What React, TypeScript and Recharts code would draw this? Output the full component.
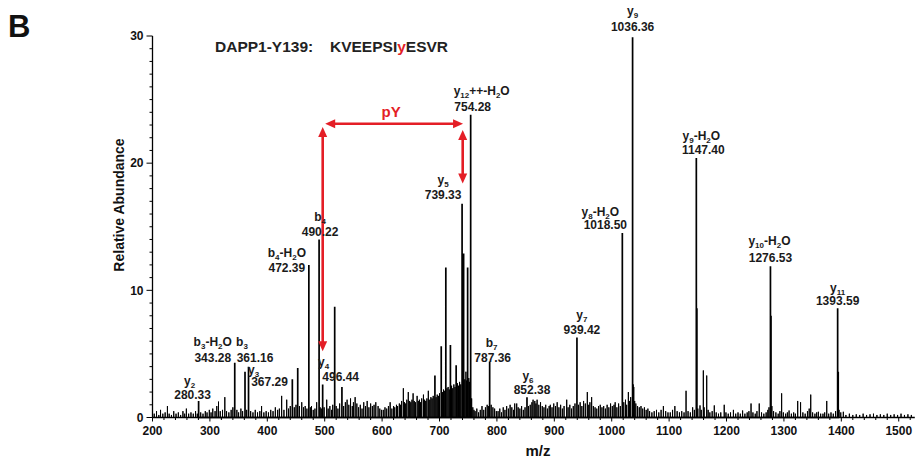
import React from 'react';
import { ComposedChart, Line, Scatter, XAxis, YAxis, ReferenceLine } from 'recharts';

const FONT = '"Liberation Sans", Arial, Helvetica, sans-serif';
const RED = '#e41e26';

// ---- data ----
const labeledMz = [280.33, 343.28, 361.16, 367.29, 472.39, 490.22, 496.44, 739.33, 754.28, 787.36, 852.38, 939.42, 1018.5, 1036.36, 1147.4, 1276.53, 1393.59];
const labeledAbundance = [1.3, 4.3, 3.6, 4.0, 12.0, 14.0, 2.6, 16.8, 23.8, 4.4, 1.6, 6.3, 14.5, 29.9, 20.4, 11.9, 8.6];
const ionNames = ['y{2}', 'b{3}-H{2}O', 'b{3}', 'y{3}', 'b{4}-H{2}O', 'b{4}', 'y{4}', 'y{5}', 'y{12}++-H{2}O', 'b{7}', 'y{6}', 'y{7}', 'y{8}-H{2}O', 'y{9}', 'y{9}-H{2}O', 'y{10}-H{2}O', 'y{11}'];

const strongMz = [443.6, 453.0, 517.4, 530.0, 692.0, 703.0, 711.0, 719.0, 729.0, 742.0, 749.0, 1148.4, 1277.5, 1394.6];
const strongAbundance = [3.0, 3.9, 8.7, 2.4, 3.3, 5.6, 11.8, 5.7, 4.1, 12.9, 11.8, 8.6, 8.0, 3.6];

const noise200to500: [number, number][] = [
  [203, 0.3], [207, 0.5], [211, 0.2], [214, 0.6], [218, 0.3], [222, 0.4], [226, 0.9], [229, 0.3], [233, 0.2], [237, 0.5],
  [241, 0.3], [245, 0.4], [249, 0.2], [253, 0.5], [256, 0.3], [259, 0.7], [263, 0.3], [267, 0.4], [271, 0.3], [275, 0.5],
  [278, 0.3], [284, 0.4], [288, 0.3], [292, 0.5], [295, 0.4], [299, 0.6], [302, 0.4], [305, 0.7], [309, 0.5], [312, 0.9],
  [315, 1.25], [318, 0.5], [322, 0.6], [326, 1.6], [329, 0.5], [333, 0.4], [337, 0.6], [340, 0.8], [347, 0.6], [350, 0.4],
  [354, 0.7], [357, 0.5], [364, 0.6], [371, 0.5], [375, 0.4], [379, 0.6], [383, 0.4], [387, 0.5], [390, 0.9], [394, 0.4],
  [398, 0.5], [402, 0.4], [406, 0.6], [410, 0.5], [414, 0.8], [418, 0.6], [421, 0.7], [425, 1.7], [429, 0.6], [433.8, 1.4],
  [437, 0.7], [440, 0.9], [447, 0.8], [450, 1.0], [456, 0.9], [460, 1.2], [463, 0.8], [466, 0.9], [469, 0.7], [475, 0.8],
  [477, 0.9], [480, 0.6], [483, 0.7], [486, 1.2], [492, 0.8], [494, 0.7], [499, 0.8],
];
const noise500to760: [number, number][] = [
  [503.5, 1.4], [506, 0.7], [509, 0.9], [512, 0.6], [514, 1.0], [520, 0.9], [523, 0.7], [526, 1.1], [533, 0.9], [536, 1.2],
  [539, 1.4], [542, 1.0], [545, 1.5], [548, 0.9], [550, 1.2], [553, 1.6], [556, 1.1], [559, 0.8], [562, 1.0], [565, 0.7],
  [568, 1.2], [571, 0.9], [574, 1.3], [577, 0.8], [580, 1.1], [583, 0.9], [586, 1.0], [589, 1.2], [593, 0.9], [596, 0.7],
  [599, 0.6], [602, 0.6], [605, 0.8], [608, 0.7], [611, 0.9], [614, 1.2], [617, 0.7], [620, 0.9], [622, 0.8], [625, 1.0],
  [627, 0.9], [630, 1.1], [632, 1.0], [634, 1.3], [637, 2.3], [639, 1.2], [641, 1.1], [643, 1.4], [645.6, 2.0], [648, 1.3],
  [650, 1.2], [652, 1.4], [654, 1.9], [656, 1.3], [658, 1.2], [661, 1.7], [663, 1.3], [665, 1.4], [667, 1.2], [669, 1.5],
  [672, 1.8], [674, 1.4], [676, 1.3], [678, 1.5], [680.5, 2.1], [683, 1.4], [685, 1.6], [687, 1.5], [689, 1.7], [694, 1.6],
  [696, 1.8], [698, 1.7], [700, 1.9], [705, 2.0], [707, 2.2], [709, 2.1], [713, 2.3], [715, 2.4], [717, 2.2], [721, 2.5],
  [723, 2.3], [725, 2.6], [727, 2.4], [731, 2.7], [733, 2.5], [735, 2.8], [737, 2.6], [741, 3.2], [744, 3.0], [746, 3.6],
  [747, 2.9], [751, 3.1], [752, 2.8], [756, 1.5], [758, 0.8], [760, 0.6],
];
const noise760to1100: [number, number][] = [
  [762, 0.5], [765, 0.7], [768, 0.4], [771, 0.6], [774, 0.9], [777, 0.6], [780, 0.8], [783, 1.0], [785, 0.9], [790, 1.0],
  [793, 0.8], [796, 0.7], [799, 0.5], [802, 0.5], [805, 0.7], [808, 0.4], [811, 0.8], [814, 0.6], [817, 0.9], [820, 0.7],
  [823, 1.0], [826, 0.8], [829, 0.6], [831, 1.1], [834.5, 1.1], [837, 0.8], [840, 0.7], [843, 0.9], [846, 0.6], [849, 0.8],
  [855, 0.9], [858, 1.0], [861, 1.2], [863, 1.4], [866, 1.3], [868, 1.1], [870, 1.4], [873, 1.0], [876, 1.2], [879, 0.9],
  [882, 0.8], [885, 1.0], [888, 0.7], [891, 0.9], [893, 1.0], [896, 0.8], [899, 1.1], [902, 0.9], [905, 1.2], [908, 0.8],
  [911, 1.0], [914, 0.7], [917, 0.9], [921.6, 1.4], [924, 0.8], [927, 1.0], [930, 0.7], [933, 0.9], [936, 1.1], [942, 1.0],
  [945, 1.2], [948, 0.9], [951, 1.3], [954, 1.1], [957.5, 2.0], [960, 1.0], [962, 1.2], [965, 1.6], [968, 0.9], [971, 0.8],
  [974, 0.7], [977, 0.9], [980, 1.0], [983, 0.8], [986, 0.9], [989, 0.7], [992, 1.0], [995, 0.8], [998, 1.1], [1001, 0.9],
  [1004, 1.0], [1006, 1.2], [1009, 0.8], [1012, 1.1], [1015, 0.9], [1021, 1.2], [1024, 1.4], [1026, 1.0], [1029, 2.0], [1031, 1.3],
  [1033, 1.6], [1037.4, 2.6], [1038.4, 2.4], [1040, 1.3], [1042, 1.1], [1045, 0.9], [1048, 0.8], [1051, 0.9], [1054, 0.7], [1057, 0.8],
  [1060, 0.6], [1063, 0.7], [1066, 0.5], [1070, 0.4], [1074, 0.5], [1078, 0.6], [1082, 0.4], [1086, 0.6], [1090, 0.9], [1094, 0.5],
  [1098, 0.4],
];
const noise1100to1530: [number, number][] = [
  [1102, 0.4], [1106, 0.6], [1110, 0.9], [1114, 0.5], [1118, 0.4], [1122, 0.5], [1126, 0.4], [1129.5, 2.1], [1133, 0.5], [1137, 0.4],
  [1141, 0.8], [1144, 0.6], [1150, 0.7], [1153.8, 0.95], [1156, 0.6], [1159.6, 3.7], [1161, 0.8], [1165.5, 3.3], [1168, 0.6], [1171, 0.4],
  [1175, 0.5], [1178.7, 0.95], [1182, 0.4], [1186, 0.3], [1190, 0.4], [1196, 1.0], [1199, 0.4], [1203, 0.3], [1207, 0.4], [1212, 0.6],
  [1216, 0.3], [1220, 0.4], [1224, 0.3], [1228, 0.55], [1232, 0.3], [1236, 0.4], [1239, 0.5], [1242.7, 1.1], [1246, 0.4], [1250, 0.3],
  [1253, 0.5], [1257, 1.1], [1261, 0.4], [1265, 0.3], [1269, 0.4], [1272, 0.6], [1274, 0.8], [1279, 0.9], [1282, 0.5], [1286, 0.4],
  [1290, 0.3], [1293, 0.5], [1296, 1.9], [1299, 0.4], [1303, 0.3], [1306, 0.4], [1309, 0.55], [1313, 0.3], [1317, 0.4], [1320, 0.3],
  [1324, 1.3], [1329, 1.2], [1333, 0.4], [1337, 0.3], [1341, 0.5], [1344, 0.7], [1346.7, 1.8], [1350, 0.4], [1354, 0.3], [1357, 0.4],
  [1360, 0.45], [1364, 0.3], [1368, 0.3], [1371, 0.4], [1374.6, 1.3], [1378, 0.3], [1382, 0.4], [1386, 0.3], [1390, 0.5], [1396, 0.6],
  [1399, 0.4], [1403.5, 0.45], [1408, 0.2], [1414, 0.3], [1420, 0.2], [1426, 0.25], [1432, 0.2], [1438, 0.3], [1444, 0.2], [1450, 0.25],
  [1456, 0.3], [1462, 0.2], [1468, 0.25], [1474, 0.2], [1480, 0.3], [1486, 0.2], [1492, 0.25], [1498, 0.2], [1504, 0.3], [1510, 0.2],
  [1516, 0.25], [1522, 0.2],
];

const xTickLabels = ['200', '300', '400', '500', '600', '700', '800', '900', '1000', '1100', '1200', '1300', '1400', '1500'];
const yTickLabels = ['0', '10', '20', '30'];

// annotation (pY neutral-loss bracket) in data coordinates
const pyArrows = [
  { from: { x: 496.5, y: 22.85 }, to: { x: 496.5, y: 5.2 }, text: '' },
  { from: { x: 740.4, y: 22.6 }, to: { x: 740.4, y: 18.4 }, text: '' },
  { from: { x: 500.8, y: 23.1 }, to: { x: 741.0, y: 23.1 }, text: 'pY' },
];

// label placement (px offsets relative to the peak top)
const labelPlacement: Record<string, { nDx: number; nDy: number; vDx: number; vDy: number }> = {
  'y{2}': { nDx: -9, nDy: -16, vDx: -6, vDy: -2 },
  'b{3}-H{2}O': { nDx: -22, nDy: -17, vDx: -22, vDy: -1 },
  'b{3}': { nDx: -3, nDy: -26, vDx: 10, vDy: -10 },
  'y{3}': { nDx: 5, nDy: 7, vDx: 21, vDy: 19 },
  'b{4}-H{2}O': { nDx: -22, nDy: -8, vDx: -22, vDy: 7 },
  'b{4}': { nDx: 1, nDy: -18, vDx: 1, vDy: -3 },
  'y{4}': { nDx: 1, nDy: -18, vDx: 18, vDy: -3 },
  'y{5}': { nDx: -19, nDy: -20, vDx: -19, vDy: -5 },
  'y{12}++-H{2}O': { nDx: 11, nDy: -20, vDx: 2, vDy: -4 },
  'b{7}': { nDx: 2, nDy: -15, vDx: 3, vDy: 0 },
  'y{6}': { nDx: 1, nDy: -17, vDx: 5, vDy: -3 },
  'y{7}': { nDx: 5, nDy: -18, vDx: 5, vDy: -3 },
  'y{8}-H{2}O': { nDx: -22, nDy: -17, vDx: -17, vDy: -4 },
  'y{9}': { nDx: 0, nDy: -22, vDx: 0, vDy: -6.5 },
  'y{9}-H{2}O': { nDx: 5, nDy: -18.5, vDx: 7, vDy: -4 },
  'y{10}-H{2}O': { nDx: -1, nDy: -21, vDx: 0, vDy: -4.5 },
  'y{11}': { nDx: 0, nDy: -16.5, vDx: 0, vDy: -3.5 },
};

// ---- derived series ----
const toSticks = (pts: [number, number][]) => {
  const sorted = [...pts].sort((a, b) => a[0] - b[0]);
  const out: { mz: number; ab: number }[] = [];
  sorted.forEach(([mz, ab]) => {
    out.push({ mz, ab: 0 }, { mz, ab }, { mz, ab: 0 });
  });
  return out;
};

const minorSticks = toSticks([...noise200to500, ...noise500to760, ...noise760to1100, ...noise1100to1530]);
const majorSticks = toSticks([
  ...labeledMz.map((m, i) => [m, labeledAbundance[i]] as [number, number]),
  ...strongMz.map((m, i) => [m, strongAbundance[i]] as [number, number]),
]);
const labelData = labeledMz.map((mz, i) => ({ mz, ab: labeledAbundance[i], ion: ionNames[i] }));

const xTicks: number[] = [];
for (let v = 200; v <= 1520; v += 20) xTicks.push(v);
const yTicks: number[] = [];
for (let v = 0; v <= 30; v += 1) yTicks.push(v);

// ---- render helpers ----
const IonName = ({ x, y, text }: { x: number; y: number; text: string }) => {
  const parts = text.split(/(\{[^}]*\})/).filter(Boolean);
  let shifted = false;
  return (
    <text x={x} y={y} textAnchor="middle" fontFamily={FONT} fontWeight="bold" fontSize={12} fill="#1a1a1a">
      {parts.map((p, i) => {
        if (p.startsWith('{')) {
          const dy = shifted ? 0 : 3;
          shifted = true;
          return (
            <tspan key={i} fontSize={8} dy={dy}>
              {p.slice(1, -1)}
            </tspan>
          );
        }
        const dy = shifted ? -3 : 0;
        shifted = false;
        return (
          <tspan key={i} dy={dy}>
            {p}
          </tspan>
        );
      })}
    </text>
  );
};

const LabelShape = (props: any) => {
  const { cx, cy, payload } = props;
  if (cx == null || cy == null || !payload) return <g />;
  const p = labelPlacement[payload.ion];
  return (
    <g>
      <IonName x={cx + p.nDx} y={cy + p.nDy} text={payload.ion} />
      <text x={cx + p.vDx} y={cy + p.vDy} textAnchor="middle" fontFamily={FONT} fontWeight="bold" fontSize={12} fill="#1a1a1a">
        {payload.mz.toFixed(2)}
      </text>
    </g>
  );
};

const XTick = (props: any) => {
  const { x, y, payload } = props;
  const v = payload.value;
  const label = xTickLabels.find((t) => Number(t) === v);
  return (
    <g>
      <line x1={x} x2={x} y1={y} y2={y + (label ? 4 : 2.5)} stroke="#000" strokeWidth={1} />
      {label && (
        <text x={x} y={y + 17} textAnchor="middle" fontFamily={FONT} fontWeight="bold" fontSize={12} fill="#111">
          {label}
        </text>
      )}
    </g>
  );
};

const YTick = (props: any) => {
  const { x, y, payload } = props;
  const v = payload.value;
  const label = yTickLabels.find((t) => Number(t) === v);
  return (
    <g>
      <line x1={x - (label ? 6 : 3)} x2={x} y1={y} y2={y} stroke="#000" strokeWidth={1} />
      {label && (
        <text x={x - 9} y={y + 4.3} textAnchor="end" fontFamily={FONT} fontWeight="bold" fontSize={12} fill="#111">
          {label}
        </text>
      )}
    </g>
  );
};

const makeArrowShape = (text: string) => (props: any) => {
  const { x1, y1, x2, y2 } = props;
  if ([x1, y1, x2, y2].some((v) => v == null || Number.isNaN(v))) return <g />;
  const dx = x2 - x1;
  const dy = y2 - y1;
  const len = Math.sqrt(dx * dx + dy * dy) || 1;
  const ux = dx / len;
  const uy = dy / len;
  const hl = 10;
  const hw = 4.5;
  const head = (tx: number, ty: number, dirx: number, diry: number) => {
    const bx = tx - dirx * hl;
    const by = ty - diry * hl;
    const px = -diry * hw;
    const py = dirx * hw;
    return `${tx},${ty} ${bx + px},${by + py} ${bx - px},${by - py}`;
  };
  return (
    <g>
      <line
        x1={x1 + ux * (hl - 2)}
        y1={y1 + uy * (hl - 2)}
        x2={x2 - ux * (hl - 2)}
        y2={y2 - uy * (hl - 2)}
        stroke={RED}
        strokeWidth={2.6}
      />
      <polygon points={head(x1, y1, -ux, -uy)} fill={RED} />
      <polygon points={head(x2, y2, ux, uy)} fill={RED} />
      {text && (
        <text x={(x1 + x2) / 2 - 3} y={y1 - 7} textAnchor="middle" fontFamily={FONT} fontWeight="bold" fontSize={15} fill={RED}>
          {text}
        </text>
      )}
    </g>
  );
};

export default function App() {
  return (
    <div style={{ position: 'relative', width: 918, height: 458, background: '#fff' }}>
      <style>{'body{margin:0;background:#fff;}'}</style>
      <ComposedChart width={918} height={458} margin={{ top: 36, right: 3.2, bottom: 10.5, left: 92.5 }}>
        <XAxis
          type="number"
          dataKey="mz"
          domain={[200, 1528]}
          ticks={xTicks}
          interval={0}
          tick={(p: any) => <XTick {...p} />}
          tickLine={false}
          tickSize={0}
          tickMargin={0}
          height={30}
          axisLine={{ stroke: '#000', strokeWidth: 1.3 }}
        />
        <YAxis
          type="number"
          dataKey="ab"
          domain={[0, 30]}
          ticks={yTicks}
          interval={0}
          tick={(p: any) => <YTick {...p} />}
          tickLine={false}
          tickSize={0}
          tickMargin={0}
          width={60}
          axisLine={{ stroke: '#000', strokeWidth: 1.3 }}
        />
        <Line data={minorSticks} dataKey="ab" type="linear" stroke="#000" strokeWidth={1} dot={false} activeDot={false} isAnimationActive={false} />
        <Line data={majorSticks} dataKey="ab" type="linear" stroke="#000" strokeWidth={1.7} dot={false} activeDot={false} isAnimationActive={false} />
        {pyArrows.map((a, i) => (
          <ReferenceLine key={i} segment={[a.from, a.to]} shape={makeArrowShape(a.text)} ifOverflow="visible" />
        ))}
        <Scatter data={labelData} dataKey="ab" shape={LabelShape} isAnimationActive={false} />
      </ComposedChart>
      <svg width={918} height={458} style={{ position: 'absolute', left: 0, top: 0, pointerEvents: 'none' }}>
        <text x={8} y={37} fontFamily={FONT} fontWeight="bold" fontSize={31} fill="#111">B</text>
        <text y={52} fontFamily={FONT} fontWeight="bold" fontSize={15.5} fill="#222">
          <tspan x={215}>DAPP1-Y139:</tspan>
          <tspan x={330}>KVEEPSI</tspan>
          <tspan fill={RED}>y</tspan>
          <tspan>ESVR</tspan>
        </text>
        <text transform="translate(124,205) rotate(-90)" textAnchor="middle" fontFamily={FONT} fontWeight="bold" fontSize={14} fill="#111">
          Relative Abundance
        </text>
        <text x={538} y={456} textAnchor="middle" fontFamily={FONT} fontWeight="bold" fontSize={15} fill="#111">m/z</text>
      </svg>
    </div>
  );
}
